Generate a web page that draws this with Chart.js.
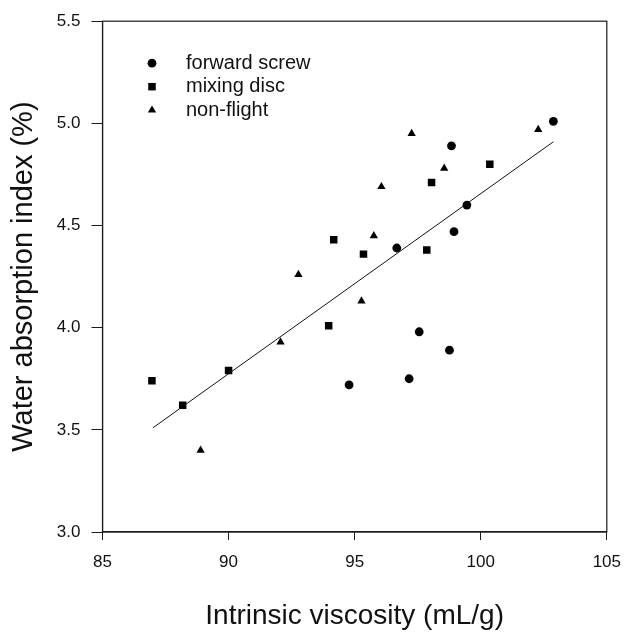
<!DOCTYPE html>
<html>
<head>
<meta charset="utf-8">
<script src="https://cdn.jsdelivr.net/npm/chart.js@4/dist/chart.umd.min.js"></script>
<style>
  html, body { margin: 0; padding: 0; background: #fff; }
  #wrap { width: 633px; height: 633px; }
</style>
</head>
<body>
<div id="wrap"><canvas id="wai-chart" width="633" height="633"></canvas></div>
<script>
// Water absorption index vs intrinsic viscosity, three screw configurations.
// Values.
const screwX = [102.88, 98.84, 99.45, 98.94, 96.67, 97.56, 98.76, 94.78, 97.16];
const screwY = [5.01, 4.89, 4.60, 4.47, 4.39, 3.98, 3.89, 3.72, 3.75];

const discX = [100.36, 98.05, 94.17, 95.35, 97.86, 93.97, 90.0, 86.96, 88.18];
const discY = [4.80, 4.71, 4.43, 4.36, 4.38, 4.01, 3.79, 3.74, 3.62];

const flightX = [97.26, 102.28, 98.55, 96.06, 95.76, 92.77, 95.27, 92.06, 88.89];
const flightY = [4.95, 4.97, 4.78, 4.69, 4.45, 4.26, 4.13, 3.93, 3.40];

// fitted line, drawn between its two end points
const fitX = [87.0, 102.88];
const fitY = [3.51, 4.91];

const X_MIN = 85, X_MAX = 105, X_STEP = 5;
const Y_MIN = 3.0, Y_MAX = 5.5, Y_STEP = 0.5;

const FONT = '"Liberation Sans", Arial, Helvetica, sans-serif';
const INK = "#111";

const toPoints = (xs, ys) => xs.map((x, i) => ({ x: x, y: ys[i] }));

// box round the plot area (top and right edges have no axis)
const framePlugin = {
    id: "frame",
    afterDatasetsDraw(chart) {
        const { ctx, chartArea: a } = chart;
        ctx.save();
        ctx.strokeStyle = "#1a1a1a";
        ctx.lineWidth = 1.2;
        ctx.strokeRect(a.left, a.top, a.right - a.left, a.bottom - a.top);
        ctx.restore();
    },
};

// legend sits inside the plot, top-left, no box
const insetLegend = {
    id: "insetLegend",
    afterDraw(chart) {
        const { ctx, chartArea: a } = chart;
        ctx.save();
        ctx.font = "20px " + FONT;
        ctx.textBaseline = "middle";
        [0, 1, 2].forEach((idx, i) => {
            const ds = chart.data.datasets[idx];
            const y = a.top + 42 + i * 23.5;
            const x = a.left + 49.5;
            ctx.fillStyle = "#000";
            if (window.Chart && Chart.helpers && Chart.helpers.drawPoint) {
                Chart.helpers.drawPoint(ctx, {
                    pointStyle: ds.pointStyle,
                    radius: ds.pointRadius,
                    rotation: 0,
                    borderWidth: 0,
                }, x, y);
            } else {
                ctx.beginPath();
                ctx.arc(x, y, ds.pointRadius, 0, Math.PI * 2);
                ctx.fill();
            }
            ctx.fillStyle = INK;
            ctx.fillText(ds.label, a.left + 83.5, y);
        });
        ctx.restore();
    },
};

function renderChart() {
    const canvas = document.getElementById("wai-chart");
    if (!canvas || !window.Chart) return;

    new Chart(canvas, {
        type: "scatter",
        data: {
            datasets: [
                {
                    label: "forward screw",
                    data: toPoints(screwX, screwY),
                    pointStyle: "circle",
                    pointRadius: 4.4,
                    backgroundColor: "#000",
                    borderWidth: 0,
                },
                {
                    label: "mixing disc",
                    data: toPoints(discX, discY),
                    pointStyle: "rect",
                    pointRadius: 5.3,
                    backgroundColor: "#000",
                    borderWidth: 0,
                },
                {
                    label: "non-flight",
                    data: toPoints(flightX, flightY),
                    pointStyle: "triangle",
                    pointRadius: 4.8,
                    backgroundColor: "#000",
                    borderWidth: 0,
                },
                {
                    label: "fit",
                    type: "line",
                    data: toPoints(fitX, fitY),
                    borderColor: "#111",
                    borderWidth: 1,
                    pointRadius: 0,
                    fill: false,
                    tension: 0,
                },
            ],
        },
        options: {
            responsive: false,
            animation: false,
            events: [],
            layout: { padding: { top: 20, right: 19, left: 0, bottom: 0 } },
            plugins: {
                legend: { display: false },
                tooltip: { enabled: false },
                title: { display: false },
            },
            scales: {
                x: {
                    type: "linear",
                    min: X_MIN,
                    max: X_MAX,
                    afterFit: s => { s.height = 101; },
                    ticks: {
                        stepSize: X_STEP,
                        padding: 12,
                        color: INK,
                        font: { family: FONT, size: 17 },
                    },
                    grid: {
                        drawOnChartArea: false,
                        drawTicks: true,
                        tickLength: 8,
                        color: "#1a1a1a",
                    },
                    border: { display: true, color: "#1a1a1a", width: 1.2 },
                    title: {
                        display: true,
                        text: "Intrinsic viscosity (mL/g)",
                        color: INK,
                        font: { family: FONT, size: 28 },
                        padding: { top: 0, bottom: 0 },
                    },
                },
                y: {
                    type: "linear",
                    min: Y_MIN,
                    max: Y_MAX,
                    afterFit: s => { s.width = 102.5; },
                    ticks: {
                        stepSize: Y_STEP,
                        padding: 11,
                        color: INK,
                        font: { family: FONT, size: 17 },
                        callback: v => Number(v).toFixed(1),
                    },
                    grid: {
                        drawOnChartArea: false,
                        drawTicks: true,
                        tickLength: 11,
                        color: "#1a1a1a",
                    },
                    border: { display: true, color: "#1a1a1a", width: 1.2 },
                    title: {
                        display: true,
                        text: "Water absorption index (%)",
                        color: INK,
                        font: { family: FONT, size: 29 },
                        padding: { top: 7, bottom: 0 },
                    },
                },
            },
        },
        plugins: [framePlugin, insetLegend],
    });
}

if (document.readyState === "loading") {
    document.addEventListener("DOMContentLoaded", renderChart);
} else {
    renderChart();
}
</script>
</body>
</html>
